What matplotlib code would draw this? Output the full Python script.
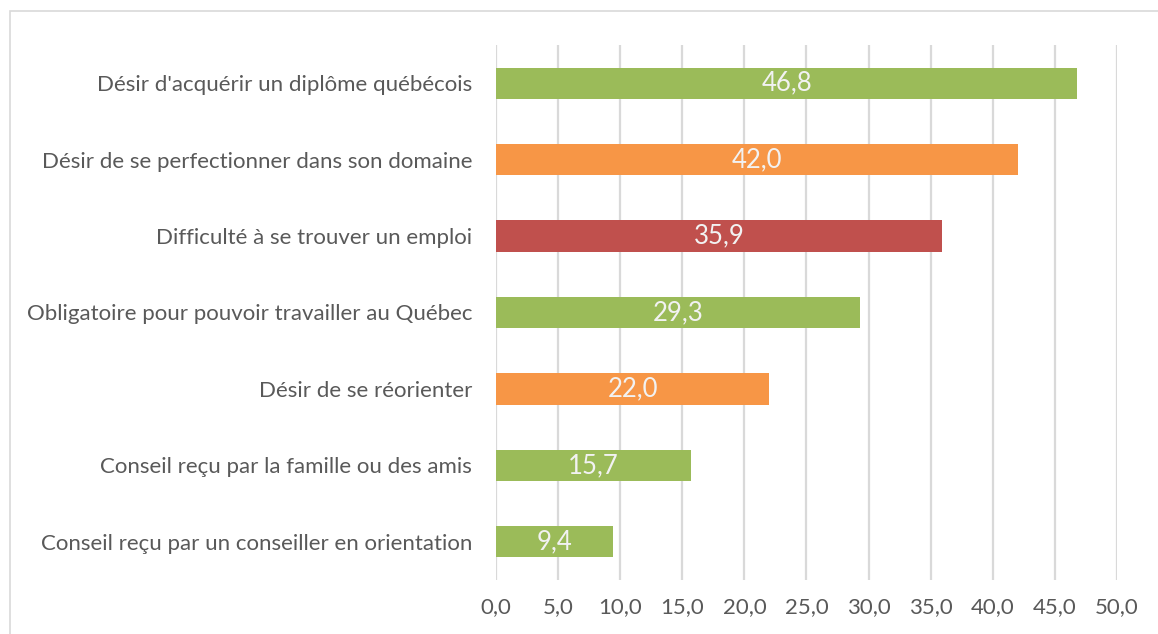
import matplotlib.pyplot as plt
from matplotlib.patches import Rectangle

categories = [
    "Désir d'acquérir un diplôme québécois",
    "Désir de se perfectionner dans son domaine",
    "Difficulté à se trouver un emploi",
    "Obligatoire pour pouvoir travailler au Québec",
    "Désir de se réorienter",
    "Conseil reçu par la famille ou des amis",
    "Conseil reçu par un conseiller en orientation",
]
values = [46.8, 42.0, 35.9, 29.3, 22.0, 15.7, 9.4]
colors = ["#9BBB59", "#F79646", "#C0504D", "#9BBB59", "#F79646", "#9BBB59", "#9BBB59"]
xticks = [0, 5, 10, 15, 20, 25, 30, 35, 40, 45, 50]

plt.rcParams["font.family"] = ["Lato", "DejaVu Sans"]
text_color = "#595959"

fig = plt.figure(figsize=(11.58, 6.34), dpi=100)
ax = fig.add_axes([0.4283, 0.0852, 0.5363, 0.8438])

# light outer frame of the chart area
fig.patches.append(Rectangle((10 / 1158, -0.1), 1.2, 1 - 11 / 634 + 0.1,
                             transform=fig.transFigure, fill=False,
                             edgecolor="#D9D9D9", linewidth=1.2))

y = list(range(len(categories)))
ax.barh(y, values, height=0.41, color=colors, zorder=3)
for yi, v in zip(y, values):
    ax.text(v / 2, yi, f"{v:.1f}".replace(".", ","), ha="center", va="center",
            color="#F2F2F2", fontsize=18.5, zorder=4)

ax.set_ylim(len(categories) - 0.5, -0.5)
ax.set_xlim(0, 50)
ax.set_yticks(y)
ax.set_yticklabels(categories, fontsize=16, color=text_color)
ax.set_xticks(xticks)
ax.set_xticklabels([f"{t:.1f}".replace(".", ",") for t in xticks],
                   fontsize=16, color=text_color)
ax.tick_params(axis="y", length=0, pad=17)
ax.tick_params(axis="x", length=0, pad=12)
ax.grid(axis="x", color="#D9D9D9", linewidth=1.6, zorder=0)
for s in ax.spines.values():
    s.set_visible(False)

fig.savefig("out.png", dpi=100)
